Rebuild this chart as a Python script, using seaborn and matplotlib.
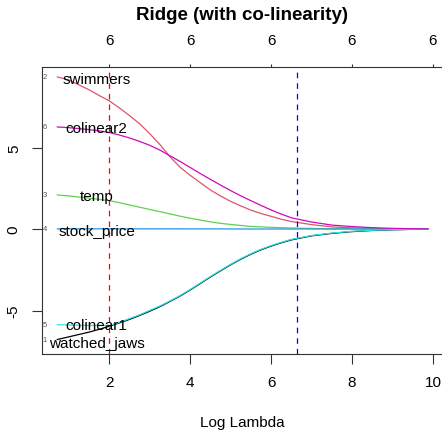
import numpy as np
import pandas as pd
import matplotlib
matplotlib.use("Agg")
import matplotlib.pyplot as plt
import seaborn as sns

# ---- data ----
log_lambda = [0.72, 1.0, 1.5, 1.75, 2.0, 2.25, 2.5, 2.75, 3.0, 3.25, 3.5, 3.75,
              4.0, 4.25, 4.5, 4.75, 5.0, 5.25, 5.5, 5.75, 6.0, 6.25,
              6.5, 7.0, 7.5, 8.0, 8.5, 9.0, 9.5, 9.88]
watched_jaws = [-6.78, -6.62, -6.33, -6.16, -5.97, -5.77, -5.55, -5.31, -5.05, -4.77,
                -4.45, -4.12, -3.75, -3.35, -2.95, -2.57, -2.2, -1.86, -1.55, -1.28,
                -1.05, -0.85, -0.67, -0.42, -0.27, -0.16, -0.09, -0.05, -0.02, -0.01]
swimmers = [9.33, 9.15, 8.55, 8.2, 7.87, 7.44, 6.97, 6.47, 5.86, 5.2,
            4.45, 3.8, 3.3, 2.85, 2.4, 2.03, 1.7, 1.42, 1.16, 0.95,
            0.78, 0.6, 0.46, 0.27, 0.13, 0.07, 0.035, 0.015, 0.006, 0.003]
temp = [2.09, 2.03, 1.9, 1.82, 1.74, 1.62, 1.48, 1.34, 1.2, 1.07,
        0.93, 0.79, 0.66, 0.55, 0.44, 0.35, 0.28, 0.22, 0.16, 0.13,
        0.1, 0.08, 0.06, 0.035, 0.02, 0.01, 0.005, 0.003, 0.001, 0.0]
stock_price = [0.01, 0.01, 0.01, 0.01, 0.01, 0.01, 0.01, 0.01, 0.01, 0.01,
               0.01, 0.01, 0.005, 0.005, 0.005, 0.005, 0.005, 0.0, 0.0, 0.0,
               0.0, 0.0, 0.0, 0.0, 0.0, 0.0, 0.0, 0.0, 0.0, 0.0]
colinear1 = [-5.87, -5.89, -5.92, -5.91, -5.92, -5.74, -5.5, -5.27, -5.0, -4.73,
             -4.42, -4.09, -3.72, -3.32, -2.92, -2.54, -2.17, -1.83, -1.52, -1.25,
             -1.02, -0.82, -0.64, -0.4, -0.25, -0.14, -0.08, -0.04, -0.02, -0.01]
colinear2 = [6.26, 6.22, 6.1, 6.02, 5.92, 5.77, 5.59, 5.38, 5.14, 4.85,
             4.5, 4.15, 3.78, 3.41, 3.05, 2.7, 2.36, 2.04, 1.74, 1.45,
             1.17, 0.92, 0.69, 0.43, 0.24, 0.15, 0.08, 0.04, 0.015, 0.005]

variables = ["watched_jaws", "swimmers", "temp", "stock_price", "colinear1", "colinear2"]
series = [watched_jaws, swimmers, temp, stock_price, colinear1, colinear2]
var_index = ["1", "2", "3", "4", "5", "6"]
line_colors = ["black", "#DF536B", "#61D04F", "#2297E6", "#28E2E5", "#CD0BBC"]

# text labels placed by the author
label_x = [1.70, 1.70, 1.69, 1.70, 1.69, 1.69]
label_y = [-7.0, 9.2, 2.02, -0.1, -5.9, 6.2]

vline_red = 2.0
vline_blue = 6.64

x_ticks = [2, 4, 6, 8, 10]
x_tick_labels = ["2", "4", "6", "8", "10"]
top_tick_labels = ["6", "6", "6", "6", "6"]
y_ticks = [-5, 0, 5]
y_tick_labels = ["-5", "0", "5"]

title = "Ridge (with co-linearity)"
xlabel = "Log Lambda"

# ---- build table ----
rows = []
for name, vals in zip(variables, series):
    for xv, yv in zip(log_lambda, vals):
        rows.append({"log_lambda": xv, "coef": yv, "variable": name})
df = pd.DataFrame(rows)

sns.set_style("white")
plt.rcParams["font.family"] = ["Liberation Sans", "DejaVu Sans"]
plt.rcParams["text.color"] = "black"
plt.rcParams["axes.labelcolor"] = "black"
plt.rcParams["xtick.color"] = "black"
plt.rcParams["ytick.color"] = "black"

W, H = 442, 431
fig = plt.figure(figsize=(W / 100, H / 100), dpi=100)
ax_left, ax_right, ax_top, ax_bottom = 41.7, 443.0, 67.7, 354.7
ax = fig.add_axes([ax_left / W, 1 - ax_bottom / H,
                   (ax_right - ax_left) / W, (ax_bottom - ax_top) / H])

sns.lineplot(data=df, x="log_lambda", y="coef", hue="variable",
             hue_order=variables, palette=dict(zip(variables, line_colors)),
             estimator=None, sort=False, legend=False, linewidth=0.9, ax=ax)

ax.axvline(vline_red, color="#FF0000", linewidth=0.9, linestyle=(0, (4.5, 4)))
ax.axvline(vline_blue, color="#0000FF", linewidth=0.9, linestyle=(0, (4.5, 4)))

for name, xv, yv in zip(variables, label_x, label_y):
    ax.text(xv, yv, name, ha="center", va="center", fontsize=11, color="black")

for idx, vals in zip(var_index, series):
    ax.text(0.42, vals[0], idx, ha="center", va="center", fontsize=5.5, color="#555555")

ax.set_xlim(0.338, 10.247)
ax.set_ylim(-7.65, 9.957)

ax.set_xticks(x_ticks)
ax.set_xticklabels(x_tick_labels)
ax.set_yticks(y_ticks)
ax.set_yticklabels(y_tick_labels, rotation=90, va="center")
ax.tick_params(axis="both", which="both", direction="out", length=7, width=0.8,
               color="#333333", labelsize=11, labelcolor="black")
ax.tick_params(axis="x", pad=8, bottom=True)
ax.tick_params(axis="y", pad=8, left=True)

for sp in ax.spines.values():
    sp.set_color("#333333")
    sp.set_linewidth(0.8)

top = ax.secondary_xaxis("top")
top.set_xticks(x_ticks)
top.set_xticklabels(top_tick_labels)
top.tick_params(axis="x", direction="out", length=2.5, width=0.8, color="#333333",
                labelsize=11, labelcolor="black", pad=12)
top.spines["top"].set_visible(False)

ax.set_xlabel(xlabel, fontsize=11, labelpad=19, color="black")
ax.set_ylabel("")
ax.set_title(title, fontsize=13.5, fontweight="bold", color="black",
             y=1 + (ax_top - 15) / (ax_bottom - ax_top), va="center", pad=0)

fig.savefig("out.png", dpi=100)
